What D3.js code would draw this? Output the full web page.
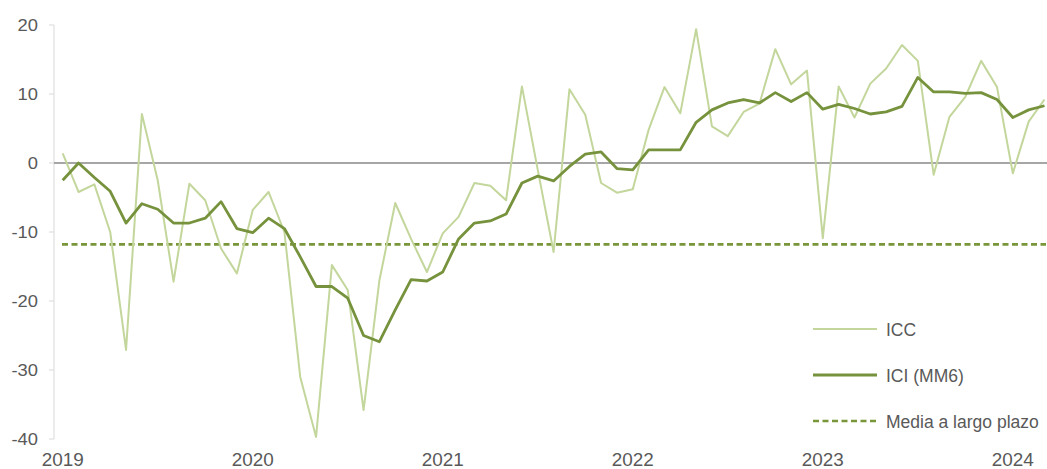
<!DOCTYPE html>
<html>
<head>
<meta charset="utf-8">
<script src="https://cdn.jsdelivr.net/npm/d3@7"></script>
<style>
  html, body { margin: 0; padding: 0; background: #fff; }
  svg { display: block; font-family: "Liberation Sans", Arial, sans-serif; }
</style>
</head>
<body>
<svg id="chart" width="1047" height="469"></svg>
<script>
// monthly categories, Jan 2019 .. Mar 2024
const months = d3.timeMonth.range(new Date(2019, 0, 1), new Date(2024, 3, 1));
const yearLabels = [2019, 2020, 2021, 2022, 2023, 2024];
const yTicks = [20, 10, 0, -10, -20, -30, -40];

const icc = [
    1.4, -4.2, -3.1, -10, -27.1, 7.1, -2.5, -17.2, -3.0, -5.4, -12.4, -16.0,
    -6.8, -4.2, -10, -31, -39.7, -14.8, -18.4, -35.8, -17, -5.8, -11, -15.8,
    -10.2, -7.8, -2.9, -3.3, -5.4, 11.1, -1, -12.9, 10.7, 7.0, -2.9, -4.3,
    -3.8, 4.8, 11.0, 7.2, 19.4, 5.3, 3.9, 7.4, 8.6, 16.5, 11.4, 13.4,
    -10.9, 11.1, 6.6, 11.5, 13.7, 17.1, 14.8, -1.7, 6.7, 9.6, 14.8, 11.0,
    -1.5, 6.0, 9.2
];
const ici = [
    -2.5, 0, -2.1, -4.1, -8.7, -5.9, -6.7, -8.7, -8.7, -8.0, -5.6, -9.5,
    -10.1, -8.0, -9.5, -13.6, -17.9, -17.9, -19.6, -25.0, -25.9, -21.3, -16.9, -17.1,
    -15.8, -11.0, -8.7, -8.4, -7.4, -2.9, -1.9, -2.6, -0.5, 1.3, 1.6, -0.8,
    -1.0, 1.9, 1.9, 1.9, 5.9, 7.7, 8.7, 9.2, 8.7, 10.2, 8.9, 10.2,
    7.8, 8.5, 7.9, 7.1, 7.4, 8.2, 12.4, 10.3, 10.3, 10.1, 10.2, 9.2,
    6.6, 7.7, 8.3
];
const longTermMean = -11.8;

const legendItems = [
    { label: "ICC", color: "#c3d69b", width: 2, dash: null },
    { label: "ICI (MM6)", color: "#76923c", width: 2.8, dash: null },
    { label: "Media a largo plazo", color: "#7a963a", width: 2.6, dash: "6,3.5" }
];

const svg = d3.select("#chart");
const stretch = 1.08; // axis text in the picture is slightly wide

const keys = months.map(d => d3.timeFormat("%Y-%m")(d));
const x = d3.scalePoint().domain(keys).range([62.7, 1044.5]);
const y = d3.scaleLinear().domain([-40, 20]).range([439, 25]);

// y axis line + ticks
svg.append("line")
    .attr("x1", 54).attr("x2", 54)
    .attr("y1", y(20)).attr("y2", y(-40))
    .style("stroke", "#d9d9d9").style("stroke-width", 1);

svg.selectAll(".ytick")
    .data(yTicks)
    .enter().append("line")
    .attr("class", "ytick")
    .attr("x1", 49).attr("x2", 54)
    .attr("y1", d => y(d)).attr("y2", d => y(d))
    .style("stroke", "#d9d9d9");

svg.selectAll(".ylab")
    .data(yTicks)
    .enter().append("text")
    .attr("class", "ylab")
    .attr("transform", d => `translate(38,${y(d) + 6}) scale(${stretch},1)`)
    .attr("text-anchor", "end")
    .style("font-size", "17px")
    .style("fill", "#595959")
    .text(d => d);

// x axis (crosses at 0)
svg.append("line")
    .attr("x1", 54).attr("x2", 1047)
    .attr("y1", y(0)).attr("y2", y(0))
    .style("stroke", "#a6a6a6").style("stroke-width", 2);

svg.selectAll(".xlab")
    .data(yearLabels)
    .enter().append("text")
    .attr("class", "xlab")
    .attr("transform", d => `translate(${x(d + "-01")},466) scale(${stretch},1)`)
    .attr("text-anchor", "middle")
    .style("font-size", "17.5px")
    .style("fill", "#595959")
    .text(d => d);

// long term mean
svg.append("line")
    .attr("x1", 62).attr("x2", 1046)
    .attr("y1", y(longTermMean)).attr("y2", y(longTermMean))
    .style("stroke", legendItems[2].color)
    .style("stroke-width", legendItems[2].width)
    .style("stroke-dasharray", legendItems[2].dash);

const line = d3.line()
    .x((d, i) => x(keys[i]))
    .y(d => y(d));

svg.append("path")
    .datum(icc)
    .attr("d", line)
    .style("fill", "none")
    .style("stroke", legendItems[0].color)
    .style("stroke-width", legendItems[0].width)
    .style("stroke-linejoin", "round");

svg.append("path")
    .datum(ici)
    .attr("d", line)
    .style("fill", "none")
    .style("stroke", legendItems[1].color)
    .style("stroke-width", legendItems[1].width)
    .style("stroke-linejoin", "round");

// legend
const legend = svg.selectAll(".legend")
    .data(legendItems)
    .enter().append("g")
    .attr("class", "legend")
    .attr("transform", (d, i) => `translate(813,${329 + i * 46})`);

legend.append("line")
    .attr("x1", 0).attr("x2", 64)
    .style("stroke", d => d.color)
    .style("stroke-width", d => d.width)
    .style("stroke-dasharray", d => d.dash);

legend.append("text")
    .attr("x", 73)
    .attr("y", 6.5)
    .style("font-size", "17.5px")
    .style("fill", "#595959")
    .text(d => d.label);
</script>
</body>
</html>
